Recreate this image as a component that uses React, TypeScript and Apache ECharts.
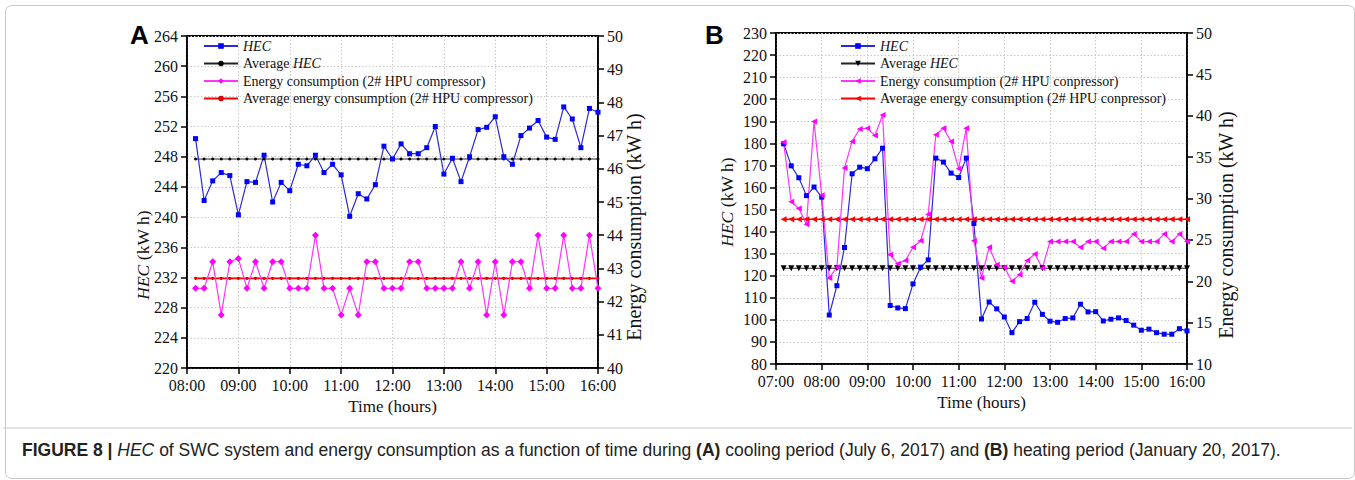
import React, { useEffect, useRef } from 'react';
import * as echarts from 'echarts';

const timesA = [
  '08:10', '08:20', '08:30', '08:40', '08:50',
  '09:00', '09:10', '09:20', '09:30', '09:40', '09:50',
  '10:00', '10:10', '10:20', '10:30', '10:40', '10:50',
  '11:00', '11:10', '11:20', '11:30', '11:40', '11:50',
  '12:00', '12:10', '12:20', '12:30', '12:40', '12:50',
  '13:00', '13:10', '13:20', '13:30', '13:40', '13:50',
  '14:00', '14:10', '14:20', '14:30', '14:40', '14:50',
  '15:00', '15:10', '15:20', '15:30', '15:40', '15:50',
  '16:00',
];
const hecA = [
  250.4, 242.2, 244.8, 245.9, 245.5, 240.3, 244.7, 244.6, 248.2, 242.0,
  244.6, 243.5, 247.0, 246.8, 248.2, 245.9, 247.0, 245.6, 240.1, 243.1,
  242.4, 244.3, 249.4, 247.7, 249.7, 248.4, 248.4, 249.2, 252.0, 245.7,
  247.8, 244.7, 248.0, 251.6, 251.9, 253.3, 248.0, 247.0, 250.8, 251.8,
  252.8, 250.6, 250.3, 254.6, 253.0, 249.2, 254.4, 253.9,
];
const energyA = [
  42.4, 42.4, 43.2, 41.6, 43.2, 43.3, 42.4, 43.2, 42.4, 43.2,
  43.2, 42.4, 42.4, 42.4, 44.0, 42.4, 42.4, 41.6, 42.4, 41.6,
  43.2, 43.2, 42.4, 42.4, 42.4, 43.2, 43.2, 42.4, 42.4, 42.4,
  42.4, 43.2, 42.4, 43.2, 41.6, 43.2, 41.6, 43.2, 43.2, 42.4,
  44.0, 42.4, 42.4, 44.0, 42.4, 42.4, 44.0, 42.4,
];
const avgHecA = 247.7;
const avgEnergyA = 42.7;

const timesB = [
  '07:10', '07:20', '07:30', '07:40', '07:50',
  '08:00', '08:10', '08:20', '08:30', '08:40', '08:50',
  '09:00', '09:10', '09:20', '09:30', '09:40', '09:50',
  '10:00', '10:10', '10:20', '10:30', '10:40', '10:50',
  '11:00', '11:10', '11:20', '11:30', '11:40', '11:50',
  '12:00', '12:10', '12:20', '12:30', '12:40', '12:50',
  '13:00', '13:10', '13:20', '13:30', '13:40', '13:50',
  '14:00', '14:10', '14:20', '14:30', '14:40', '14:50',
  '15:00', '15:10', '15:20', '15:30', '15:40', '15:50',
  '16:00',
];
const hecB = [
  179.8, 169.8, 164.4, 156.3, 160.2, 155.6, 102.2, 115.5, 132.8, 166.2,
  169.2, 168.5, 173.0, 177.8, 106.5, 105.4, 105.1, 116.3, 123.9, 127.2,
  173.3, 171.5, 166.5, 164.5, 173.3, 143.7, 100.4, 108.1, 105.0, 101.3,
  94.2, 99.2, 100.6, 108.0, 102.5, 99.4, 98.9, 100.6, 100.9, 107.1,
  103.6, 103.7, 99.5, 100.3, 100.9, 99.7, 97.6, 95.3, 95.8, 94.2,
  93.5, 93.5, 96.0, 95.0,
];
const energyB = [
  36.8, 29.6, 28.8, 26.9, 39.3, 30.4, 20.4, 21.7, 33.7, 36.9,
  38.4, 38.5, 37.6, 40.1, 23.2, 22.1, 22.5, 24.1, 24.9, 28.1,
  37.7, 38.5, 36.9, 33.6, 38.5, 24.9, 20.4, 24.1, 22.0, 21.7,
  20.0, 20.8, 22.5, 23.3, 21.6, 24.8, 24.8, 24.8, 24.8, 24.1,
  24.8, 24.8, 24.0, 24.8, 24.8, 24.8, 25.7, 24.8, 24.8, 24.8,
  25.7, 24.8, 25.7, 24.8,
];
const avgHecB = 123.4;
const avgEnergyB = 27.5;

const legendLabels: Record<string, string> = {
  hecA: '{i|HEC}',
  avgHecA: 'Average {i|HEC}',
  enA: 'Energy consumption (2# HPU compressor)',
  avgEnA: 'Average energy consumption (2# HPU compressor)',
  hecB: '{i|HEC}',
  avgHecB: 'Average {i|HEC}',
  enB: 'Energy consumption (2# HPU conpressor)',
  avgEnB: 'Average energy consumption (2# HPU conpressor)',
};

const leftAxisName = '{i|HEC} (kW h)';
const rightAxisName = 'Energy consumption (kW h)';
const xAxisName = 'Time (hours)';

const SERIF = "'Times New Roman', 'Liberation Serif', serif";
const SANS = "Arial, 'Liberation Sans', sans-serif";

const toH = (t: string) => {
  const [h, m] = t.split(':').map(Number);
  return h + m / 60;
};
const hh = (v: number) => (v < 10 ? '0' : '') + v + ':00';

export default function App() {
  const ref = useRef<HTMLDivElement>(null);
  useEffect(() => {
    document.body.style.margin = '0';
    if (!ref.current) return;
    const chart = echarts.init(ref.current, null, { renderer: 'svg' });
    const axisLine = { show: true, onZero: false, lineStyle: { color: '#000', width: 1.6 } };
    const axisTick = { show: true, inside: false, length: 6, lineStyle: { color: '#000', width: 1.5 } };
    const label = { color: '#111', fontFamily: SERIF, fontSize: 16, margin: 9, showMinLabel: true, showMaxLabel: true };
    const dotted = { show: true, lineStyle: { color: '#c8c8c8', type: [1.5, 2] as any, width: 1 } };
    const mkName = (size: number) => ({
      color: '#111', fontFamily: SERIF, fontSize: size,
      rich: { i: { fontStyle: 'italic', fontFamily: SERIF, fontSize: size, color: '#111' } },
    });
    const vName = (text: string, x: number, y: number, size: number) => ({
      type: 'text', x, y, rotation: Math.PI / 2,
      style: {
        text, align: 'center', verticalAlign: 'middle',
        fontFamily: SERIF, fontSize: size, fill: '#111',
        rich: { i: { fontStyle: 'italic', fontFamily: SERIF, fontSize: size, fill: '#111' } },
      },
    });
    const pts = (times: string[], vals: number[]) => times.map((t, i) => [toH(t), vals[i]]);
    const flat = (times: string[], v: number) => times.map((t) => [toH(t), v]);
    const legendBase = {
      orient: 'vertical' as const,
      itemWidth: 34,
      itemHeight: 7,
      itemGap: 3.5,
      formatter: (n: string) => legendLabels[n] || n,
      textStyle: {
        color: '#111', fontFamily: SERIF, fontSize: 14,
        rich: { i: { fontStyle: 'italic', fontFamily: SERIF, fontSize: 14, color: '#111' } },
      },
    };
    chart.setOption({
      animation: false,
      backgroundColor: '#fff',
      grid: [
        { left: 187, top: 36, width: 411, height: 332, show: true, borderColor: '#000', borderWidth: 1.8, backgroundColor: 'transparent' },
        { left: 776, top: 33, width: 411, height: 331, show: true, borderColor: '#000', borderWidth: 1.8, backgroundColor: 'transparent' },
      ],
      legend: [
        { ...legendBase, left: 198, top: 34, data: ['hecA', 'avgHecA', 'enA', 'avgEnA'] },
        { ...legendBase, left: 835, top: 34, data: ['hecB', 'avgHecB', 'enB', 'avgEnB'] },
      ],
      xAxis: [
        {
          gridIndex: 0, type: 'value', min: 8, max: 16, interval: 1,
          axisLine, axisTick, axisLabel: { ...label, formatter: hh }, splitLine: dotted,
          name: xAxisName, nameLocation: 'middle', nameGap: 30, nameTextStyle: mkName(17),
        },
        {
          gridIndex: 1, type: 'value', min: 7, max: 16, interval: 1,
          axisLine, axisTick, axisLabel: { ...label, formatter: hh }, splitLine: dotted,
          name: xAxisName, nameLocation: 'middle', nameGap: 30, nameTextStyle: mkName(17),
        },
      ],
      yAxis: [
        {
          gridIndex: 0, type: 'value', position: 'left', min: 220, max: 264, interval: 4,
          axisLine, axisTick, axisLabel: label, splitLine: dotted,
        },
        {
          gridIndex: 0, type: 'value', position: 'right', min: 40, max: 50, interval: 1,
          axisLine, axisTick, axisLabel: label, splitLine: { show: false },
        },
        {
          gridIndex: 1, type: 'value', position: 'left', min: 80, max: 230, interval: 10,
          axisLine, axisTick, axisLabel: label, splitLine: dotted,
        },
        {
          gridIndex: 1, type: 'value', position: 'right', min: 10, max: 50, interval: 5,
          axisLine, axisTick, axisLabel: label, splitLine: { show: false },
        },
      ],
      series: [
        {
          name: 'avgHecA', type: 'line', xAxisIndex: 0, yAxisIndex: 0, data: flat(timesA, avgHecA),
          symbol: 'circle', symbolSize: 3, showAllSymbol: true,
          lineStyle: { color: '#222', width: 1.2 }, itemStyle: { color: '#000' },
        },
        {
          name: 'avgEnA', type: 'line', xAxisIndex: 0, yAxisIndex: 1, data: flat(timesA, avgEnergyA),
          symbol: 'circle', symbolSize: 3, showAllSymbol: true,
          lineStyle: { color: '#ff0000', width: 1.6 }, itemStyle: { color: '#e00000' },
        },
        {
          name: 'hecA', type: 'line', xAxisIndex: 0, yAxisIndex: 0, data: pts(timesA, hecA),
          symbol: 'rect', symbolSize: 5, showAllSymbol: true,
          lineStyle: { color: '#2a2ad8', width: 1.2 }, itemStyle: { color: '#0000ff' },
        },
        {
          name: 'enA', type: 'line', xAxisIndex: 0, yAxisIndex: 1, data: pts(timesA, energyA),
          symbol: 'diamond', symbolSize: 7, showAllSymbol: true,
          lineStyle: { color: '#ff33ff', width: 1.2 }, itemStyle: { color: '#ff00ff' },
        },
        {
          name: 'avgHecB', type: 'line', xAxisIndex: 1, yAxisIndex: 2, data: flat(timesB, avgHecB),
          symbol: 'triangle', symbolRotate: 180, symbolSize: 6, showAllSymbol: true,
          lineStyle: { color: '#222', width: 1.2 }, itemStyle: { color: '#000' },
        },
        {
          name: 'avgEnB', type: 'line', xAxisIndex: 1, yAxisIndex: 3, data: flat(timesB, avgEnergyB),
          symbol: 'triangle', symbolRotate: 90, symbolSize: 6, showAllSymbol: true,
          lineStyle: { color: '#ff0000', width: 1.4 }, itemStyle: { color: '#ff0000' },
        },
        {
          name: 'hecB', type: 'line', xAxisIndex: 1, yAxisIndex: 2, data: pts(timesB, hecB),
          symbol: 'rect', symbolSize: 5, showAllSymbol: true,
          lineStyle: { color: '#2a2ad8', width: 1.2 }, itemStyle: { color: '#0000ff' },
        },
        {
          name: 'enB', type: 'line', xAxisIndex: 1, yAxisIndex: 3, data: pts(timesB, energyB),
          symbol: 'triangle', symbolRotate: 90, symbolSize: 6, showAllSymbol: true,
          lineStyle: { color: '#ff33ff', width: 1.2 }, itemStyle: { color: '#ff00ff' },
        },
      ],
      graphic: [
        {
          type: 'rect', left: 3, top: 3, z: -10,
          shape: { width: 1349, height: 473, r: 6 },
          style: { fill: 'none', stroke: '#c8c8c8', lineWidth: 1 },
        },
        {
          type: 'line', z: -10,
          shape: { x1: 3, y1: 428, x2: 1352, y2: 428 },
          style: { stroke: '#c8c8c8', lineWidth: 1 },
        },
        vName(leftAxisName, 143, 255, 17.5),
        vName(rightAxisName, 634, 227, 20),
        vName(leftAxisName, 727, 202, 17.5),
        vName(rightAxisName, 1226, 225, 20),
        {
          type: 'text', left: 130, top: 22,
          style: { text: 'A', fontFamily: SANS, fontWeight: 'bold', fontSize: 26, fill: '#000' },
        },
        {
          type: 'text', left: 705, top: 22,
          style: { text: 'B', fontFamily: SANS, fontWeight: 'bold', fontSize: 26, fill: '#000' },
        },
        {
          type: 'text', left: 22, top: 441,
          style: {
            text: '{b|FIGURE 8 |} {i|HEC} of SWC system and energy consumption as a function of time during {b|(A)} cooling period (July 6, 2017) and {b|(B)} heating period (January 20, 2017).',
            fontFamily: SANS, fontSize: 17.5, fill: '#222',
            rich: {
              b: { fontFamily: SANS, fontSize: 17.5, fontWeight: 'bold', fill: '#222' },
              i: { fontFamily: SANS, fontSize: 17.5, fontStyle: 'italic', fill: '#222' },
            },
          },
        },
      ],
    });
    return () => chart.dispose();
  }, []);
  return <div ref={ref} style={{ width: 1355, height: 480 }} />;
}
